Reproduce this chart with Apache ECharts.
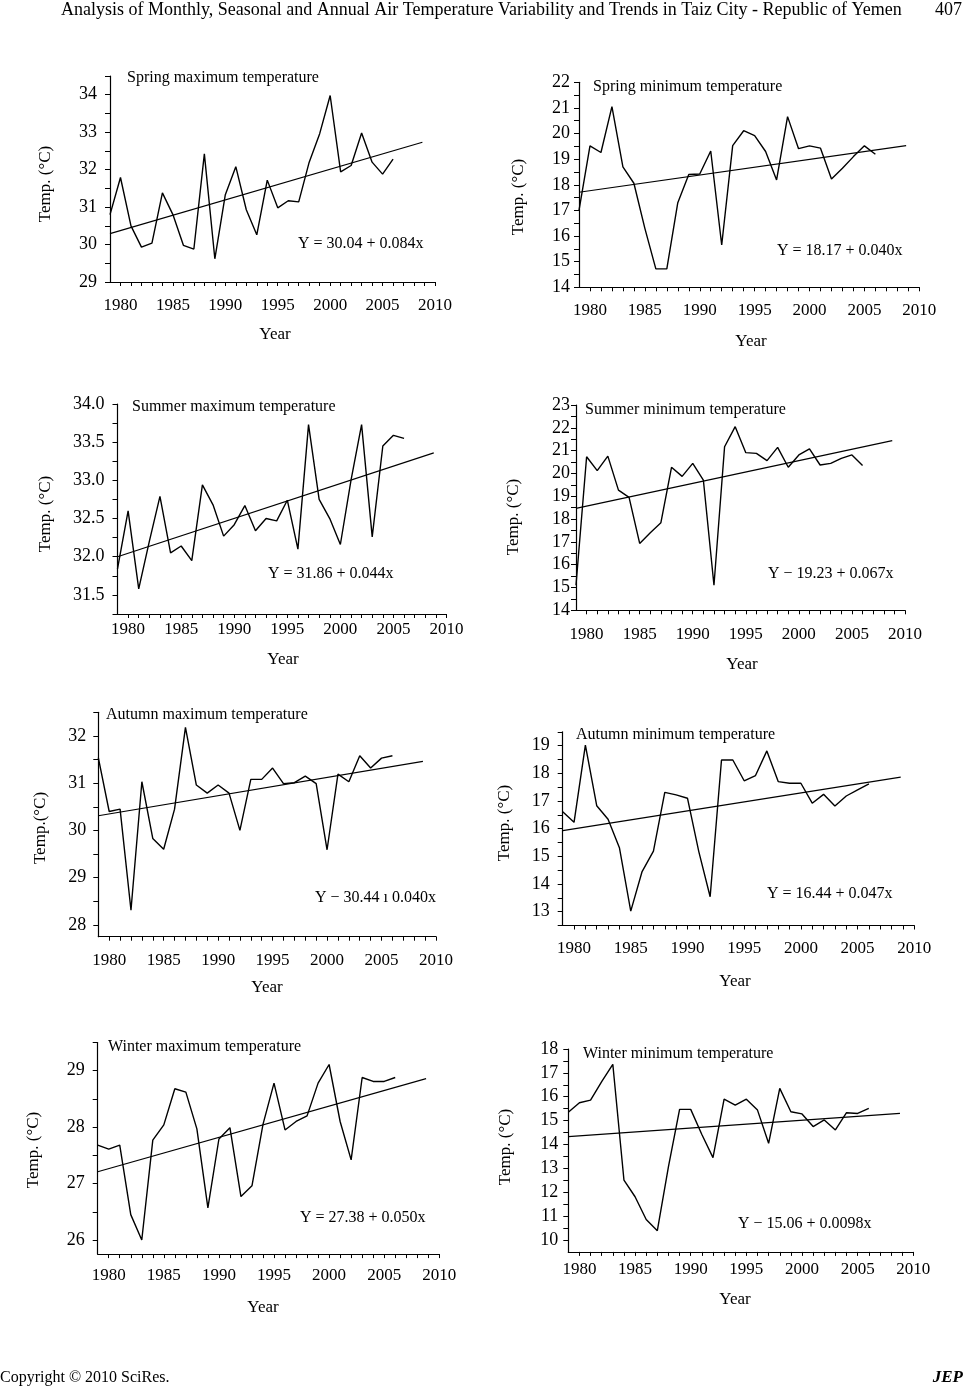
<!DOCTYPE html>
<html><head><meta charset="utf-8">
<script src="https://cdn.jsdelivr.net/npm/echarts@6/dist/echarts.min.js"></script>
<style>html,body{margin:0;padding:0;background:#fff}#c{width:965px;height:1386px}</style>
</head><body><div id="c"></div>
<script>
// ---------- DATA ----------
const years = [1979,1980,1981,1982,1983,1984,1985,1986,1987,1988,1989,1990,1991,1992,1993,1994,1995,1996,1997,1998,1999,2000,2001,2002,2003,2004,2005,2006];
const xTickYears = [1980,1981,1982,1983,1984,1985,1986,1987,1988,1989,1990,1991,1992,1993,1994,1995,1996,1997,1998,1999,2000,2001,2002,2003,2004,2005,2006,2007,2008,2009,2010];
const xLabelYears = [1980,1985,1990,1995,2000,2005,2010];

const springMax = [30.80,31.79,30.50,29.93,30.04,31.38,30.80,29.98,29.88,32.42,29.62,31.33,32.08,30.93,30.26,31.72,30.98,31.17,31.14,32.20,32.96,33.98,31.94,32.11,32.98,32.20,31.88,32.28];
const springMin = [17.00,19.52,19.26,21.05,18.70,18.06,16.30,14.72,14.72,17.30,18.40,18.42,19.32,15.65,19.53,20.11,19.92,19.30,18.19,20.66,19.41,19.52,19.43,18.23,18.65,19.10,19.52,19.19];
const summerMax = [31.84,32.60,31.58,32.20,32.79,32.05,32.14,31.95,32.94,32.68,32.27,32.42,32.67,32.34,32.50,32.47,32.74,32.10,33.73,32.75,32.50,32.16,33.00,33.73,32.26,33.45,33.59,33.55];
const summerMin = [15.10,20.73,20.12,20.76,19.27,18.95,16.93,17.40,17.84,20.27,19.87,20.44,19.71,15.10,21.17,22.05,20.91,20.88,20.56,21.14,20.27,20.81,21.08,20.37,20.44,20.66,20.81,20.35];
const autumnMax = [31.54,30.40,30.45,28.31,31.03,29.83,29.60,30.45,32.18,30.96,30.79,30.96,30.79,30.00,31.08,31.08,31.32,30.99,31.01,31.15,30.99,29.59,31.19,31.03,31.58,31.32,31.53,31.58];
const autumnMin = [16.61,16.23,19.02,16.83,16.34,15.31,13.02,14.45,15.19,17.31,17.22,17.10,15.17,13.54,18.48,18.48,17.73,17.92,18.81,17.70,17.64,17.64,16.92,17.24,16.82,17.18,17.40,17.62];
const winterMax = [27.68,27.61,27.68,26.45,26.00,27.77,28.04,28.68,28.62,27.97,26.57,27.79,27.99,26.77,26.96,28.05,28.78,27.95,28.10,28.20,28.78,29.11,28.10,27.42,28.88,28.81,28.81,28.88];
const winterMin = [15.35,15.75,15.86,16.63,17.36,12.51,11.81,10.86,10.39,13.07,15.47,15.47,14.42,13.45,15.90,15.65,15.90,15.44,14.05,16.35,15.37,15.28,14.75,15.03,14.61,15.33,15.30,15.51];

// trend lines: [value at start, value at end]
const trendYears = [1979, 2008.8];
const springMaxTrend = [30.29, 32.73];
const springMinTrend = [17.71, 19.53];
const summerMaxTrend = [32.00, 33.36];
const summerMinTrend = [18.47, 21.44];
const autumnMaxTrend = [30.31, 31.46];
const autumnMinTrend = [15.93, 17.86];
const winterMaxTrend = [27.21, 28.86];
const winterMinTrend = [14.33, 15.30];

const panelTitles = ['Spring maximum temperature','Spring minimum temperature','Summer maximum temperature','Summer minimum temperature','Autumn maximum temperature','Autumn minimum temperature','Winter maximum temperature','Winter minimum temperature'];
const equations = ['Y = 30.04 + 0.084x','Y = 18.17 + 0.040x','Y = 31.86 + 0.044x','Y \u2212 19.23 + 0.067x','Y \u2212 30.44 \u0131 0.040x','Y = 16.44 + 0.047x','Y = 27.38 + 0.050x','Y \u2212 15.06 + 0.0098x'];
const yNames = ['Temp. (\u00B0C)','Temp. (\u00B0C)','Temp. (\u00B0C)','Temp. (\u00B0C)','Temp.(\u00B0C)','Temp. (\u00B0C)','Temp. (\u00B0C)','Temp. (\u00B0C)'];

const yTicks1 = [29,29.5,30,30.5,31,31.5,32,32.5,33,33.5,34,34.5];
const yLabels1 = [29,30,31,32,33,34];
const yTicks2 = [14,14.5,15,15.5,16,16.5,17,17.5,18,18.5,19,19.5,20,20.5,21,21.5,22];
const yLabels2 = [14,15,16,17,18,19,20,21,22];
const yTicks3 = [31.25,31.5,31.75,32,32.25,32.5,32.75,33,33.25,33.5,33.75,34];
const yLabels3 = [31.5,32.0,32.5,33.0,33.5,34.0];
const yTicks4 = [14,14.5,15,15.5,16,16.5,17,17.5,18,18.5,19,19.5,20,20.5,21,21.5,22,22.5,23];
const yLabels4 = [14,15,16,17,18,19,20,21,22,23];
const yTicks5 = [28,28.5,29,29.5,30,30.5,31,31.5,32,32.5];
const yLabels5 = [28,29,30,31,32];
const yTicks6 = [12.5,13,13.5,14,14.5,15,15.5,16,16.5,17,17.5,18,18.5,19,19.5];
const yLabels6 = [13,14,15,16,17,18,19];
const yTicks7 = [26,26.5,27,27.5,28,28.5,29,29.5];
const yLabels7 = [26,27,28,29];
const yTicks8 = [10,10.5,11,11.5,12,12.5,13,13.5,14,14.5,15,15.5,16,16.5,17,17.5,18];
const yLabels8 = [10,11,12,13,14,15,16,17,18];

// ---------- LAYOUT ----------
const F = '"Liberation Serif","Times New Roman",serif';
const panels = [
  {vals:springMax, trend:springMaxTrend, yt:yTicks1, yl:yLabels1, min:29, max:34.5, dec:0,
   g:{left:110,top:76,width:325,height:206}, xm:15, ym:13, title:[127,77.5], eq:[298,244], yn:[46,184], yr:[275,335]},
  {vals:springMin, trend:springMinTrend, yt:yTicks2, yl:yLabels2, min:14, max:22, dec:0,
   g:{left:579,top:82.3,width:340.3,height:205}, xm:15, ym:9, title:[593,87], eq:[777,251], yn:[519,197], yr:[751,342]},
  {vals:summerMax, trend:summerMaxTrend, yt:yTicks3, yl:yLabels3, min:31.25, max:34, dec:1,
   g:{left:117.5,top:404,width:329,height:210}, xm:7, ym:13, title:[132,406.5], eq:[268,574], yn:[46,514], yr:[283,660]},
  {vals:summerMin, trend:summerMinTrend, yt:yTicks4, yl:yLabels4, min:14, max:23, dec:0,
   g:{left:576,top:405,width:329,height:205.3}, xm:16, ym:6, title:[585,409.5], eq:[768,574], yn:[514,517], yr:[742,665]},
  {vals:autumnMax, trend:autumnMaxTrend, yt:yTicks5, yl:yLabels5, min:27.75, max:32.5, dec:0,
   g:{left:98.3,top:712.3,width:337.7,height:224.4}, xm:15, ym:12, title:[106,715], eq:[315,897.5], yn:[41,828], yr:[267,988]},
  {vals:autumnMin, trend:autumnMinTrend, yt:yTicks6, yl:yLabels6, min:12.5, max:19.5, dec:0,
   g:{left:562.7,top:731.8,width:351.6,height:193.7}, xm:15, ym:13, title:[576,734.5], eq:[767,893.5], yn:[505,823], yr:[735,982]},
  {vals:winterMax, trend:winterMaxTrend, yt:yTicks7, yl:yLabels7, min:25.75, max:29.5, dec:0,
   g:{left:97.7,top:1042.5,width:341.6,height:211.6}, xm:13, ym:13, title:[108,1046.5], eq:[300,1217.5], yn:[34,1150], yr:[263,1308]},
  {vals:winterMin, trend:winterMinTrend, yt:yTicks8, yl:yLabels8, min:9.5, max:18, dec:0,
   g:{left:568.3,top:1049,width:345,height:202.9}, xm:9, ym:10, title:[583,1053.5], eq:[738,1223.5], yn:[506,1147], yr:[735,1300]}
];

const grid=[], xAxis=[], yAxis=[], series=[], graphic=[];
const txt = (x,y,text,size,opt={}) => ({type:'text', x, y, rotation: opt.rot||0, silent:true,
  style:{text, fontSize:size, fontFamily:F, fill:'#000', fontWeight:opt.bold?'bold':'normal', fontStyle:opt.italic?'italic':'normal',
         textAlign:opt.align||'left', textVerticalAlign:'middle'}});

panels.forEach((p,i)=>{
  grid.push(Object.assign({containLabel:false}, p.g));
  xAxis.push({gridIndex:i, type:'value', min:1979, max:2010, interval:1,
    axisLine:{show:true, onZero:false, lineStyle:{color:'#000', width:1.2}},
    axisTick:{show:true, customValues:xTickYears, length:4, inside:false, lineStyle:{color:'#000', width:1}},
    axisLabel:{show:true, customValues:xLabelYears, formatter:v=>String(v), margin:p.xm, fontSize:17, fontFamily:F, color:'#000'},
    splitLine:{show:false}});
  yAxis.push({gridIndex:i, type:'value', min:p.min, max:p.max,
    axisLine:{show:true, onZero:false, lineStyle:{color:'#000', width:1.2}},
    axisTick:{show:true, customValues:p.yt, length:5, inside:false, lineStyle:{color:'#000', width:1}},
    axisLabel:{show:true, customValues:p.yl, formatter:v=>Number(v).toFixed(p.dec), margin:p.ym, fontSize:18, fontFamily:F, color:'#000'},
    splitLine:{show:false}});
  series.push({type:'line', xAxisIndex:i, yAxisIndex:i, showSymbol:false, silent:true, z:3,
    lineStyle:{color:'#000', width:1.4}, data:years.map((y,k)=>[y, p.vals[k]])});
  series.push({type:'line', xAxisIndex:i, yAxisIndex:i, showSymbol:false, silent:true, z:2,
    lineStyle:{color:'#000', width:1.2}, data:trendYears.map((y,k)=>[y, p.trend[k]])});
  graphic.push(txt(p.title[0], p.title[1], panelTitles[i], 16));
  graphic.push(txt(p.eq[0], p.eq[1], equations[i], 16));
  graphic.push(txt(p.yn[0], p.yn[1], yNames[i], 17, {rot:Math.PI/2, align:'center'}));
  graphic.push(txt(p.yr[0], p.yr[1], 'Year', 17, {align:'center'}));
});

graphic.push(txt(61, 10, 'Analysis of Monthly, Seasonal and Annual Air Temperature Variability and Trends in Taiz City - Republic of Yemen', 18));
graphic.push(txt(962, 10, '407', 18, {align:'right'}));
graphic.push(txt(0, 1378, 'Copyright \u00A9 2010 SciRes.', 16));
graphic.push(txt(963, 1378, 'JEP', 17, {align:'right', bold:true, italic:true}));

const chart = echarts.init(document.getElementById('c'), null, {renderer:'canvas'});
chart.setOption({animation:false, backgroundColor:'#fff', grid, xAxis, yAxis, series, graphic});
</script>
</body></html>
